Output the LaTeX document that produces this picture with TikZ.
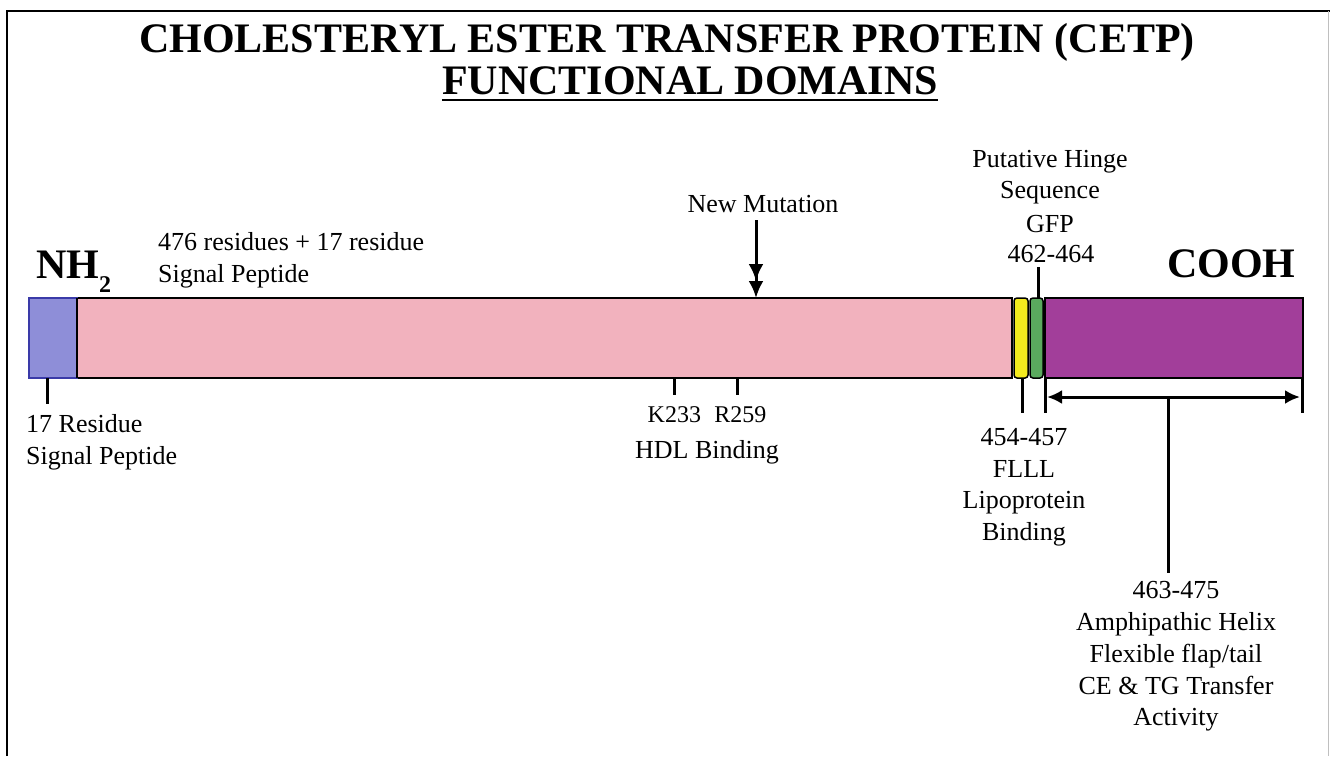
\documentclass[tikz,border=0pt]{standalone}
\usepackage{fontspec}
\setmainfont{Liberation Serif}
\usetikzlibrary{arrows.meta}
\definecolor{sigblue}{HTML}{8E8ED8}
\definecolor{sigedge}{HTML}{3A3AA8}
\definecolor{pinkdom}{HTML}{F2B2BE}
\definecolor{yeldom}{HTML}{F4EA1E}
\definecolor{grndom}{HTML}{5AAA5E}
\definecolor{purpdom}{HTML}{A23E9A}
\begin{document}
\begin{tikzpicture}[x=1pt,y=-1pt,
  lbl/.style={font=\fontsize{26}{31}\selectfont, inner sep=0pt, anchor=base},
  lblw/.style={lbl, anchor=base west},
  big/.style={font=\fontsize{42}{48}\selectfont\bfseries, inner sep=0pt, anchor=base},
  seg/.style={draw=black, line width=2pt, minimum height=80pt, inner sep=0pt, outer sep=0pt},
  narrow/.style={seg, line width=1.5pt, rounded corners=3pt},
  tick/.style={line width=3pt, black}
]
\useasboundingbox (0,0) rectangle (1330,756);
% frame
\draw[line width=2.5pt] (7,756) -- (7,11) -- (1330,11);
\draw[black!25, line width=1pt] (1328,11) -- (1328,756);

% title
\node[big] (title1) at (667,52) {CHOLESTERYL ESTER TRANSFER PROTEIN (CETP)};
\node[big] (title2) at (690,94) {FUNCTIONAL DOMAINS};
\draw[line width=2.5pt] ([yshift=-6pt]title2.base west) -- ([yshift=-6pt]title2.base east);

% bar segments
\node[seg, fill=pinkdom, minimum width=935pt] (pink) at (544.5,338) {};
\node[seg, draw=sigedge, fill=sigblue, minimum width=48pt] (sig) at (53,338) {};
\draw[line width=2pt] (sig.north east) -- (sig.south east);
\node[narrow, fill=yeldom, minimum width=14pt] (yel) at (1021,338) {};
\node[narrow, fill=grndom, minimum width=13pt] (grn) at (1036.5,338) {};
\node[seg, fill=purpdom, minimum width=258pt] (purp) at (1174,338) {};

% end labels
\node[big, anchor=base west] (nh) at (36,278) {NH\raisebox{-14pt}{\fontsize{24}{24}\selectfont 2}};
\node[big, anchor=base west] (cooh) at (1167,277) {COOH};

% top labels
\node[lblw] (res1) at (158,250) {476 residues + 17 residue};
\node[lblw] (res2) at (158,282) {Signal Peptide};
\node[lbl] (nmut) at (763,212) {New Mutation};
\node[lbl] (hinge1) at (1050,167) {Putative Hinge};
\node[lbl] (hinge2) at (1050,198) {Sequence};
\node[lbl] (hinge3) at (1050,232) {GFP};
\node[lbl] (hinge4) at (1051,262) {462-464};

% new mutation arrow
\coordinate (mutA) at (756,220);
\coordinate (mutB) at (756,298);
\draw[tick, -{Latex[length=17pt,width=15pt] Latex[length=17pt,width=15pt]}] (mutA) -- (mutB);

% hinge tick
\coordinate (hingeA) at (1038,267);
\coordinate (hingeB) at (1038,298);
\draw[tick] (hingeA) -- (hingeB);

% signal peptide tick
\coordinate (spA) at (47,378);
\coordinate (spB) at (47,404);
\draw[tick] (spA) -- (spB);
\node[lblw] (sp1) at (26,432) {17 Residue};
\node[lblw] (sp2) at (26,464) {Signal Peptide};

% HDL binding ticks
\coordinate (kA) at (674,378);
\coordinate (kB) at (674,395);
\coordinate (rA) at (737,378);
\coordinate (rB) at (737,395);
\draw[tick] (kA) -- (kB);
\draw[tick] (rA) -- (rB);
\node[lbl, font=\fontsize{24}{29}\selectfont] (kr) at (707,422) {K233\hspace{0.55em}R259};
\node[lbl] (hdl) at (707,458) {HDL Binding};

% lipoprotein binding ticks
\coordinate (lA) at (1022,379);
\coordinate (lB) at (1022,413);
\coordinate (mA) at (1045,379);
\coordinate (mB) at (1045,413);
\coordinate (eA) at (1302,379);
\coordinate (eB) at (1302,413);
\draw[tick] (lA) -- (lB);
\draw[tick] (mA) -- (mB);
\draw[tick] (eA) -- (eB);
\node[lbl] (lp1) at (1024,445) {454-457};
\node[lbl] (lp2) at (1024,477) {FLLL};
\node[lbl] (lp3) at (1024,508) {Lipoprotein};
\node[lbl] (lp4) at (1024,540) {Binding};

% amphipathic helix span
\coordinate (hL) at (1047,397);
\coordinate (hR) at (1300,397);
\draw[tick, {Latex[length=15pt,width=14pt]}-{Latex[length=15pt,width=14pt]}] (hL) -- (hR);
\coordinate (hM) at (1168,397);
\coordinate (hD) at (1168,573);
\draw[tick] (hM) -- (hD);
\node[lbl] (am1) at (1176,598) {463-475};
\node[lbl] (am2) at (1176,630) {Amphipathic Helix};
\node[lbl] (am3) at (1176,662) {Flexible flap/tail};
\node[lbl] (am4) at (1176,694) {CE \& TG Transfer};
\node[lbl] (am5) at (1176,725) {Activity};
\end{tikzpicture}
\end{document}
